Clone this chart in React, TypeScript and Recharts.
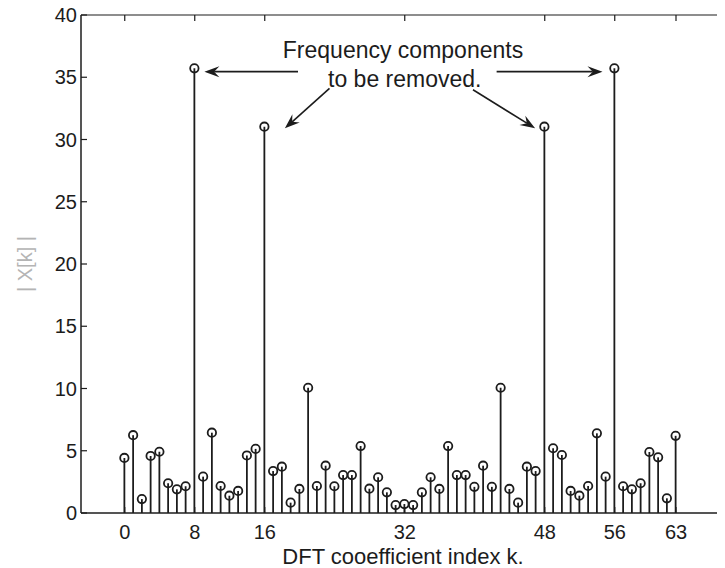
import { ComposedChart, Bar, XAxis, YAxis, ReferenceLine, ReferenceDot } from 'recharts';

const INK = '#1c1c1c';
const FONT = '"Liberation Sans", Arial, sans-serif';

// |X[k]| for k = 0..63
const magnitudes = [
    4.42, 6.25, 1.12, 4.58, 4.92, 2.39, 1.9, 2.15,
    35.72, 2.92, 6.45, 2.17, 1.39, 1.77, 4.62, 5.15,
    31.03, 3.37, 3.72, 0.83, 1.93, 10.06, 2.17, 3.8,
    2.15, 3.05, 3.05, 5.38, 1.95, 2.87, 1.66, 0.64,
    0.72, 0.64, 1.66, 2.87, 1.93, 5.38, 3.05, 3.05,
    2.1, 3.8, 2.1, 10.06, 1.93, 0.83, 3.72, 3.37,
    31.03, 5.2, 4.66, 1.77, 1.39, 2.17, 6.4, 2.92,
    35.72, 2.15, 1.9, 2.39, 4.9, 4.47, 1.18, 6.2,
];

const xTicks = [0, 8, 16, 32, 48, 56, 63];
const yTicks = [0, 5, 10, 15, 20, 25, 30, 35, 40];

const noteLines = [
    { text: 'Frequency components', k: 31.8, y: 37.2 },
    { text: 'to be removed.', k: 32, y: 34.9 },
];

// annotation arrows, in data units: from text towards the peaks
const arrowSegments = [
    [{ x: 19.8, y: 35.45 }, { x: 9.1, y: 35.45 }],
    [{ x: 42.5, y: 35.45 }, { x: 54.6, y: 35.45 }],
    [{ x: 23.4, y: 34.1 }, { x: 18.3, y: 30.9 }],
    [{ x: 39.8, y: 34.0 }, { x: 46.9, y: 30.9 }],
];

const data = magnitudes.map((mag, k) => ({ k, mag }));

// stem: line from baseline + open circle at the value
const Stem = (props: any) => {
    const { x, y, width, height } = props;
    if (x == null || y == null) return null;
    const cx = x + width / 2;
    return (
        <g>
            <line x1={cx} x2={cx} y1={y + height} y2={y} stroke={INK} strokeWidth={1.8} />
            <circle cx={cx} cy={y} r={4.2} fill="none" stroke={INK} strokeWidth={1.8} />
        </g>
    );
};

const Arrow = (props: any) => {
    const { x1, y1, x2, y2 } = props;
    const ang = Math.atan2(y2 - y1, x2 - x1);
    const c = Math.cos(ang), s = Math.sin(ang);
    const len = 15, half = 5.5;
    const bx = x2 - len * c, by = y2 - len * s;
    const nx = x2 - len * 0.65 * c, ny = y2 - len * 0.65 * s;
    const pts = `${x2},${y2} ${bx - s * half},${by + c * half} ${nx},${ny} ${bx + s * half},${by - c * half}`;
    return (
        <g>
            <line x1={x1} y1={y1} x2={nx} y2={ny} stroke={INK} strokeWidth={1.6} />
            <polygon points={pts} fill={INK} />
        </g>
    );
};

export default function App() {
    return (
        <div style={{ width: 717, height: 568, marginTop: -8, background: '#fff' }}>
            <ComposedChart width={717} height={568} data={data} margin={{ top: 14, right: 0, left: 0, bottom: 25 }}>
                <XAxis
                    xAxisId="top"
                    orientation="top"
                    type="number"
                    dataKey="k"
                    domain={[-5, 68.6]}
                    allowDataOverflow
                    ticks={xTicks}
                    interval={0}
                    height={1}
                    tickSize={-6}
                    tickFormatter={() => ''}
                    axisLine={{ stroke: INK, strokeWidth: 1.2 }}
                    tickLine={{ stroke: INK, strokeWidth: 1.2 }}
                />
                <XAxis
                    xAxisId="bottom"
                    type="number"
                    dataKey="k"
                    domain={[-5, 68.6]}
                    allowDataOverflow
                    ticks={xTicks}
                    interval={0}
                    height={30}
                    tickSize={-6}
                    tickMargin={18}
                    axisLine={{ stroke: INK, strokeWidth: 1.5 }}
                    tickLine={{ stroke: INK, strokeWidth: 1.2 }}
                    tick={{ fill: INK, fontSize: 20, fontFamily: FONT }}
                    label={{ value: 'DFT cooefficient index k.', position: 'bottom', offset: 5, fill: INK, fontSize: 22, fontFamily: FONT }}
                />
                <YAxis
                    yAxisId="left"
                    type="number"
                    domain={[0, 40]}
                    ticks={yTicks}
                    interval={0}
                    width={73}
                    tickSize={-6}
                    tickMargin={10}
                    axisLine={{ stroke: INK, strokeWidth: 1.5 }}
                    tickLine={{ stroke: INK, strokeWidth: 1.2 }}
                    tick={{ fill: INK, fontSize: 20, fontFamily: FONT }}
                    label={{ value: '| X[k] |', angle: -90, position: 'insideLeft', offset: 17, fill: '#b4b4b4', fontSize: 20, fontFamily: FONT, style: { textAnchor: 'middle' } }}
                />
                <Bar
                    dataKey="mag"
                    xAxisId="bottom"
                    yAxisId="left"
                    barSize={2}
                    shape={<Stem />}
                    isAnimationActive={false}
                />
                {arrowSegments.map((seg, i) => (
                    <ReferenceLine
                        key={`arrow-${i}`}
                        xAxisId="bottom"
                        yAxisId="left"
                        segment={seg}
                        shape={(p: any) => <Arrow {...p} />}
                    />
                ))}
                {noteLines.map((n) => (
                    <ReferenceDot
                        key={n.text}
                        xAxisId="bottom"
                        yAxisId="left"
                        x={n.k}
                        y={n.y}
                        r={0}
                        stroke="none"
                        label={{ value: n.text, position: 'center', fill: INK, fontSize: 23, fontFamily: FONT }}
                    />
                ))}
            </ComposedChart>
        </div>
    );
}
